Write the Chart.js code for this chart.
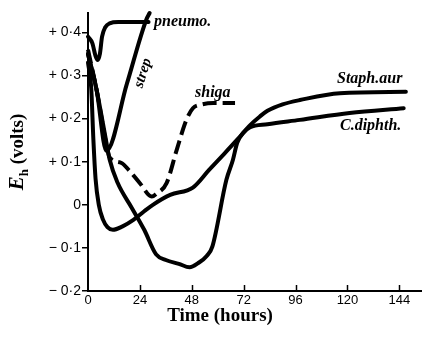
<!DOCTYPE html>
<html><head><meta charset="utf-8">
<script src="https://cdn.jsdelivr.net/npm/chart.js@4/dist/chart.umd.min.js"></script>
<style>html,body{margin:0;padding:0;background:#fff}#wrap{width:423px;height:339px;position:relative}</style>
</head><body><div id="wrap"><canvas id="c" width="423" height="339"></canvas></div>
<script>
// Axis ticks
const xTicks = [0, 24, 48, 72, 96, 120, 144];
const yTicks = [-0.2, -0.1, 0, 0.1, 0.2, 0.3, 0.4];
const yTickLabels = ['− 0·2', '− 0·1', '0', '+ 0·1', '+ 0·2', '+ 0·3', '+ 0·4'];

// Series (time in hours, Eh in volts)
const pneumoT = [0, 2, 3.5, 4.5, 5.5, 6.5, 8, 10, 14, 20, 28];
const pneumoV = [0.39, 0.375, 0.345, 0.336, 0.35, 0.39, 0.412, 0.421, 0.424, 0.424, 0.424];

const strepT = [0, 4, 8.5, 18, 27, 28.5];
const strepV = [0.35, 0.266, 0.125, 0.281, 0.43, 0.445];

const shigaT = [0, 4, 8.5, 10, 15.5, 19, 24, 29.5, 31.5, 36.4, 41, 45.5, 48.5, 52, 58, 68];
const shigaV = [0.36, 0.266, 0.14, 0.11, 0.097, 0.08, 0.05, 0.019, 0.025, 0.051, 0.127, 0.197, 0.224, 0.232, 0.236, 0.236];

const staphT = [0, 1.5, 2.5, 3.5, 5, 7, 9, 11.5, 16, 21, 26, 30, 38, 48.5, 56, 62, 69, 75, 79.5, 83, 90, 98, 116.5, 147];
const staphV = [0.33, 0.27, 0.15, 0.06, 0.0, -0.035, -0.052, -0.058, -0.05, -0.035, -0.015, 0.0, 0.023, 0.04, 0.081, 0.113, 0.151, 0.185, 0.205, 0.218, 0.233, 0.243, 0.259, 0.262];

const diphT = [0, 4, 8.5, 10, 13.7, 20, 26, 31.5, 36, 42, 47, 51, 55, 57.5, 64, 67, 69, 72, 75, 83, 98, 121, 146];
const diphV = [0.35, 0.266, 0.145, 0.105, 0.051, -0.005, -0.058, -0.115, -0.128, -0.137, -0.145, -0.135, -0.118, -0.097, 0.058, 0.104, 0.144, 0.168, 0.18, 0.187, 0.197, 0.213, 0.224];

// Curve labels
const labelTexts = ['pneumo.', 'strep', 'shiga', 'Staph.aur', 'C.diphth.'];

function pts(T, V) { return T.map((t, i) => ({ x: t, y: V[i] })); }

const base = {
  borderColor: '#000', borderWidth: 4, pointRadius: 0, fill: false,
  cubicInterpolationMode: 'monotone', clip: false,
  borderCapStyle: 'round', borderJoinStyle: 'round'
};

const SERIF = '"Liberation Serif", "Times New Roman", serif';

const decor = {
  id: 'decor',
  afterDraw(chart) {
    const ctx = chart.ctx, xs = chart.scales.x, ca = chart.chartArea;
    ctx.save();
    // inward x ticks
    ctx.strokeStyle = '#000'; ctx.lineWidth = 1.5;
    xTicks.forEach(v => {
      if (v === 0) return;
      const px = Math.round(xs.getPixelForValue(v)) + 0.5;
      ctx.beginPath(); ctx.moveTo(px, ca.bottom); ctx.lineTo(px, ca.bottom - 6); ctx.stroke();
    });
    ctx.fillStyle = '#000';
    // x title
    ctx.font = 'bold 19px ' + SERIF;
    ctx.textAlign = 'center'; ctx.textBaseline = 'alphabetic';
    ctx.fillText('Time (hours)', 220, 321);
    // y title (rotated) E_h (volts)
    ctx.save();
    ctx.translate(23, 152);
    ctx.rotate(-Math.PI / 2);
    const fE = 'italic bold 21px ' + SERIF, fH = 'bold 13px ' + SERIF, fV = 'bold 19px ' + SERIF;
    ctx.font = fE; const wE = ctx.measureText('E').width;
    ctx.font = fH; const wH = ctx.measureText('h').width;
    ctx.font = fV; const wV = ctx.measureText(' (volts)').width;
    let u = -(wE + wH + wV) / 2;
    ctx.textAlign = 'left';
    ctx.font = fE; ctx.fillText('E', u, 0); u += wE;
    ctx.font = fH; ctx.fillText('h', u, 5); u += wH;
    ctx.font = fV; ctx.fillText(' (volts)', u, 0);
    ctx.restore();
    // curve labels
    ctx.font = 'italic bold 16px ' + SERIF;
    ctx.textAlign = 'left';
    ctx.fillText(labelTexts[0], 154, 26);
    ctx.fillText(labelTexts[2], 195, 97);
    ctx.fillText(labelTexts[3], 337, 83);
    ctx.fillText(labelTexts[4], 340, 130);
    ctx.save();
    ctx.font = 'italic bold 15px ' + SERIF;
    ctx.translate(143, 73);
    ctx.rotate(-73 * Math.PI / 180);
    ctx.textAlign = 'center'; ctx.textBaseline = 'middle';
    ctx.fillText(labelTexts[1], 0, 0);
    ctx.restore();
    ctx.restore();
  }
};

new Chart(document.getElementById('c'), {
  type: 'line',
  data: {
    datasets: [
      Object.assign({ label: 'pneumo.', data: pts(pneumoT, pneumoV) }, base),
      Object.assign({ label: 'strep', data: pts(strepT, strepV) }, base),
      Object.assign({ label: 'shiga', data: pts(shigaT, shigaV) }, base, { borderDash: [14, 6], borderCapStyle: 'butt' }),
      Object.assign({ label: 'Staph.aur', data: pts(staphT, staphV) }, base),
      Object.assign({ label: 'C.diphth.', data: pts(diphT, diphV) }, base)
    ]
  },
  options: {
    responsive: false, animation: false, devicePixelRatio: 1,
    layout: { padding: { top: 13, right: 2, left: 0, bottom: 0 } },
    plugins: { legend: { display: false }, tooltip: { enabled: false } },
    scales: {
      x: {
        type: 'linear', min: 0, max: 154,
        afterBuildTicks: s => { s.ticks = xTicks.map(v => ({ value: v })); },
        afterFit: s => { s.height = 48; },
        ticks: { color: '#000', font: { family: '"Liberation Sans", Arial, sans-serif', size: 13 }, padding: 2, maxRotation: 0, autoSkip: false, callback: v => String(v) },
        grid: { drawOnChartArea: false, drawTicks: false },
        border: { color: '#000', width: 2 }
      },
      y: {
        type: 'linear', min: -0.2, max: 0.445,
        afterBuildTicks: s => { s.ticks = yTicks.map(v => ({ value: v })); },
        afterFit: s => { s.width = 88; },
        ticks: { color: '#000', font: { family: '"Liberation Sans", Arial, sans-serif', size: 14 }, padding: 1, autoSkip: false,
          callback: v => yTickLabels[yTicks.findIndex(t => Math.abs(t - v) < 1e-6)] },
        grid: { drawOnChartArea: false, drawTicks: true, tickLength: 6, color: '#000', lineWidth: 1.5 },
        border: { color: '#000', width: 2 }
      }
    }
  },
  plugins: [decor]
});
</script></body></html>
